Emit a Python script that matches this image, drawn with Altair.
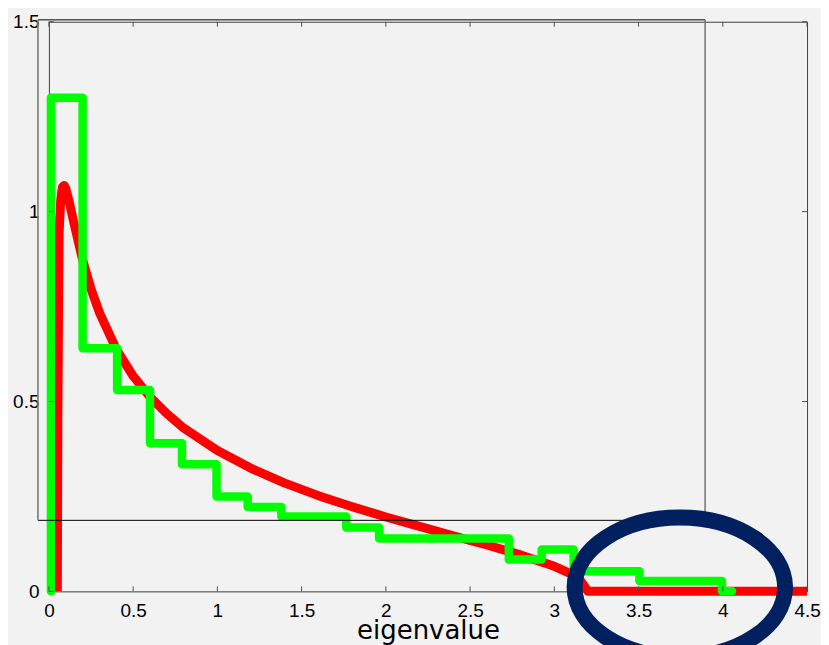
import altair as alt
import pandas as pd

# ---- data ----
# theoretical density (red curve)
mp_x = [0.05, 0.053, 0.06, 0.07, 0.08, 0.09, 0.10, 0.12, 0.15, 0.20, 0.25, 0.30, 0.40,
        0.50, 0.60, 0.70, 0.80, 1.00, 1.20, 1.40, 1.60, 1.80, 2.00, 2.20, 2.40, 2.60,
        2.80, 3.00, 3.10, 3.15, 3.20, 4.50]
mp_y = [0.0, 0.45, 0.94, 1.03, 1.064, 1.069, 1.061, 1.027, 0.967, 0.873, 0.796, 0.734, 0.638,
        0.567, 0.512, 0.468, 0.430, 0.371, 0.324, 0.285, 0.252, 0.223, 0.196, 0.171, 0.146, 0.122,
        0.096, 0.066, 0.046, 0.032, 0.0, 0.0]

# empirical histogram (green staircase): edge positions and level starting at that edge
hist_x = [0.012, 0.012, 0.20, 0.405, 0.60, 0.79, 0.995, 1.18, 1.38, 1.765, 1.96, 2.73,
          2.925, 3.115, 3.505, 3.995, 4.055]
hist_y = [0.0, 1.30, 0.64, 0.53, 0.39, 0.335, 0.25, 0.222, 0.197, 0.168, 0.139, 0.084,
          0.11, 0.053, 0.027, 0.0, 0.0]

x_ticks = [0, 0.5, 1, 1.5, 2, 2.5, 3, 3.5, 4, 4.5]
y_ticks = [0, 0.5, 1, 1.5]

# overlay rectangle (data coordinates)
rect_x = [-0.065, 3.895]
rect_y = [0.187, 1.505]

# highlight ellipse centre (data coordinates)
ell_x = [3.745]
ell_y = [0.0105]

W, H = 760, 571
LABEL_FONT = "Liberation Sans"
TITLE_FONT = "DejaVu Sans"

mp_df = pd.DataFrame({"x": mp_x, "y": mp_y, "i": range(len(mp_x))})
hist_df = pd.DataFrame({"x": hist_x, "y": hist_y, "i": range(len(hist_x))})
xt_df = pd.DataFrame({"t": x_ticks})
yt_df = pd.DataFrame({"t": y_ticks})
rect_df = pd.DataFrame({"x1": [rect_x[0]], "x2": [rect_x[1]], "y1": [rect_y[0]], "y2": [rect_y[1]]})
ell_df = pd.DataFrame({"x": ell_x, "y": ell_y})

xs = alt.Scale(domain=[0, 4.5], nice=False, zero=False)
ys = alt.Scale(domain=[0, 1.5], nice=False, zero=False)

X = alt.X("x:Q", scale=xs, axis=alt.Axis(values=x_ticks, format="~g", title="eigenvalue",
                                           labelFlush=False, labelOverlap=False))
Y = alt.Y("y:Q", scale=ys, axis=alt.Axis(values=y_ticks, format="~g", title=None,
                                           labelFlush=False, labelOverlap=False))

red = alt.Chart(mp_df).mark_line(color="#ff0000", strokeWidth=9, strokeJoin="round",
                                 strokeCap="butt").encode(x=X, y=Y, order="i:Q")

green = alt.Chart(hist_df).mark_line(color="#00ff00", strokeWidth=8.5, interpolate="step-after",
                                     strokeJoin="round", strokeCap="round").encode(
    x=alt.X("x:Q", scale=xs), y=alt.Y("y:Q", scale=ys), order="i:Q")

tick_style = dict(color="#505050", strokeWidth=1)
bt = alt.Chart(xt_df).mark_rule(**tick_style).encode(x=alt.X("t:Q", scale=xs), y=alt.value(H), y2=alt.value(H - 5))
tt = alt.Chart(xt_df).mark_rule(**tick_style).encode(x=alt.X("t:Q", scale=xs), y=alt.value(0), y2=alt.value(5))
lt = alt.Chart(yt_df).mark_rule(**tick_style).encode(y=alt.Y("t:Q", scale=ys), x=alt.value(0), x2=alt.value(5))
rt = alt.Chart(yt_df).mark_rule(**tick_style).encode(y=alt.Y("t:Q", scale=ys), x=alt.value(W - 5), x2=alt.value(W))

rb = alt.Chart(rect_df)
r_top = rb.mark_rule(color="#000000", strokeWidth=1).encode(
    x=alt.X("x1:Q", scale=xs), x2="x2:Q", y=alt.Y("y2:Q", scale=ys))
r_bot = rb.mark_rule(color="#000000", strokeWidth=1).encode(
    x=alt.X("x1:Q", scale=xs), x2="x2:Q", y=alt.Y("y1:Q", scale=ys))
r_left = rb.mark_rule(color="#7a7a7a", strokeWidth=1.6).encode(
    x=alt.X("x1:Q", scale=xs), y=alt.Y("y1:Q", scale=ys), y2="y2:Q")
r_right = rb.mark_rule(color="#7a7a7a", strokeWidth=1.6).encode(
    x=alt.X("x2:Q", scale=xs), y=alt.Y("y1:Q", scale=ys), y2="y2:Q")

ell_path = ("M -1 0 C -1 -0.3665 -0.5523 -0.6635 0 -0.6635 C 0.5523 -0.6635 1 -0.3665 1 0 "
            "C 1 0.3665 0.5523 0.6635 0 0.6635 C -0.5523 0.6635 -1 0.3665 -1 0 Z")
ellipse = alt.Chart(ell_df).mark_point(shape=ell_path, size=211 * 211, filled=False,
                                       color="#002060", strokeWidth=16, opacity=1).encode(
    x=alt.X("x:Q", scale=xs), y=alt.Y("y:Q", scale=ys))

chart = alt.layer(red, green, bt, tt, lt, rt, r_top, r_bot, r_left, r_right, ellipse).properties(
    width=W, height=H,
    autosize=alt.AutoSizeParams(type="none"),
    padding={"left": 41, "top": 13, "right": 14, "bottom": 53},
    background="#f2f2f2",
).configure_view(stroke="#404040", strokeWidth=1, fill="#f2f2f2").configure_axis(
    grid=False, ticks=False, domain=False,
    labelFont=LABEL_FONT, labelFontSize=19, labelColor="#000000", labelPadding=10,
    titleFont=TITLE_FONT, titleFontSize=26, titleFontWeight="normal", titleColor="#000000",
    titlePadding=-3,
)

chart.save("out.html", embed_options={"renderer": "svg", "actions": False})
